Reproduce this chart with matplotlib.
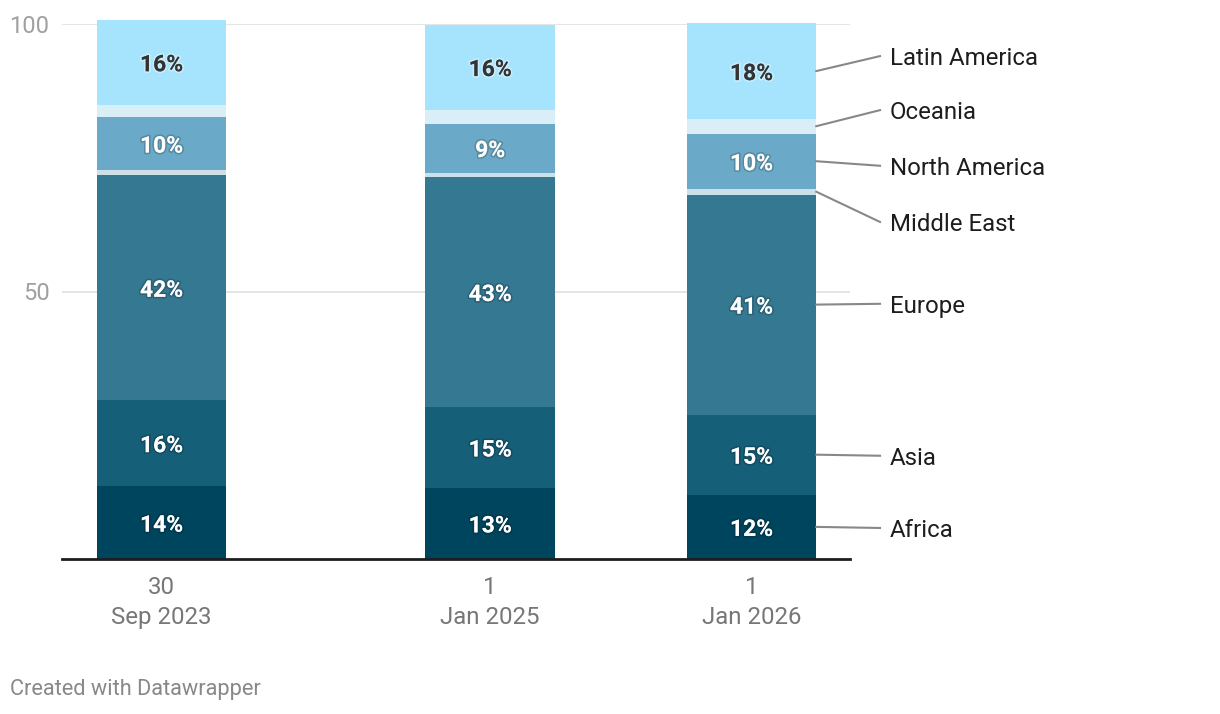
import datetime as dt
import matplotlib
matplotlib.use("Agg")
import matplotlib.pyplot as plt
import matplotlib.dates as mdates
import matplotlib.patheffects as pe

plt.rcParams['font.family'] = ['Roboto', 'DejaVu Sans']

# data (share in %)
dates = [dt.date(2023, 9, 30), dt.date(2025, 1, 1), dt.date(2026, 1, 1)]
tick_labels = ['30\nSep 2023', '1\nJan 2025', '1\nJan 2026']
regions = ['Africa', 'Asia', 'Europe', 'Middle East', 'North America', 'Oceania', 'Latin America']
africa = [13.6, 13.3, 12.0]
asia = [16.1, 15.1, 15.0]
europe = [42.0, 43.0, 41.1]
middle_east = [1.0, 0.8, 1.1]
north_america = [9.9, 9.2, 10.3]
oceania = [2.3, 2.6, 2.8]
latin_america = [15.9, 15.9, 17.8]

series = [africa, asia, europe, middle_east, north_america, oceania, latin_america]
colors = ['#00455e', '#165f78', '#357892', '#cde0e8', '#6aaac8', '#d9eef7', '#a6e4fe']
show_label = [True, True, True, False, True, False, True]
# spread out positions of the right-hand labels (y, data units)
legend_y = [5.8, 19.3, 47.7, 63.0, 73.5, 83.9, 94.0]

fig = plt.figure(figsize=(12.2, 7.14), dpi=100)
ax = fig.add_axes([62 / 1220, 155 / 714, 788 / 1220, 535 / 714])

x = mdates.date2num(dates)
width = 181  # days
bottom = [0, 0, 0]
for vals, col, lab in zip(series, colors, show_label):
    ax.bar(x, vals, width=width, bottom=bottom, color=col, clip_on=False, zorder=2)
    if lab:
        for xi, b, v in zip(x, bottom, vals):
            if col == '#a6e4fe':
                ax.text(xi, b + v / 2, f'{round(v)}%', ha='center', va='center_baseline',
                        fontsize=16.5, fontweight='bold', color='#333333', zorder=4,
                        path_effects=[pe.withStroke(linewidth=2.5, foreground=(1, 1, 1, 0.35))])
            else:
                ax.text(xi, b + v / 2, f'{round(v)}%', ha='center', va='center_baseline',
                        fontsize=16.5, fontweight='bold', color='white', zorder=4,
                        path_effects=[pe.withStroke(linewidth=2.5, foreground=(0, 0, 0, 0.18))])
    bottom = [b + v for b, v in zip(bottom, vals)]

# labels on the right of the last bar
right_edge = x[-1] + width / 2
cum = 0
for name, vals, ly in zip(regions, series, legend_y):
    mid = cum + vals[-1] / 2
    cum += vals[-1]
    ax.plot([right_edge, right_edge + 89], [mid, ly], color='#888888', lw=1.5,
            clip_on=False, zorder=3)
    ax.text(right_edge + 103, ly, name, ha='left', va='center_baseline', fontsize=17.3,
            color='#1d1d1d')

ax.set_xlim(x[0] - 139, x[-1] + 137.6)
ax.set_ylim(0, 100)
ax.set_xticks(x)
ax.set_xticklabels(tick_labels, fontsize=17.3, color='#777777', linespacing=1.42)
ax.set_yticks([50, 100])
ax.set_yticklabels(['50', '100'], fontsize=17, color='#a0a0a0')
ax.tick_params(axis='y', length=0, pad=9)
ax.tick_params(axis='x', length=0, pad=12)
ax.grid(axis='y', color='#e3e3e3', lw=1.3, zorder=0)
ax.set_axisbelow(True)
for s in ['top', 'right', 'left']:
    ax.spines[s].set_visible(False)
ax.spines['bottom'].set_color('#1d1d1d')
ax.spines['bottom'].set_linewidth(2)
ax.spines['bottom'].set_zorder(5)

fig.text(10 / 1220, 1 - 689 / 714, 'Created with Datawrapper', fontsize=15.7,
         color='#888888', ha='left', va='center')

fig.savefig('out.png', dpi=100)
